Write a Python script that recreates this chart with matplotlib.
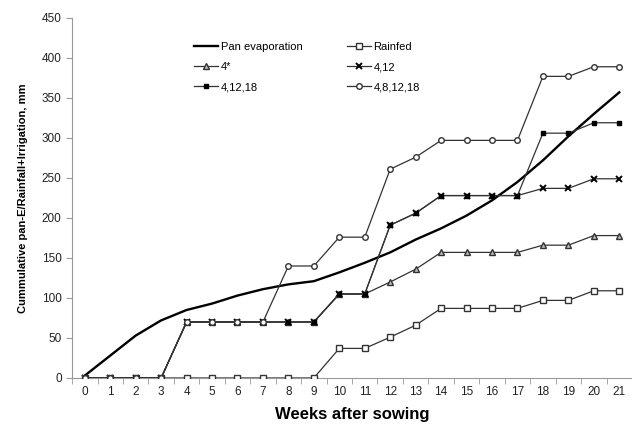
import matplotlib.pyplot as plt
import numpy as np

plt.rcParams['font.family'] = ['Liberation Sans', 'DejaVu Sans']

# datos
weeks = np.arange(0, 22)
pan_e = [3, 28, 53, 72, 85, 93, 103, 111, 117, 121, 132, 144, 157, 173, 187, 203, 222, 245, 272, 302, 330, 357]
rainfed = [0, 0, 0, 0, 0, 0, 0, 0, 0, 0, 37, 37, 51, 66, 87, 87, 87, 87, 97, 97, 109, 109]
irr_4 = [0, 0, 0, 0, 70, 70, 70, 70, 70, 70, 105, 105, 120, 136, 157, 157, 157, 157, 166, 166, 178, 178]
irr_4_12 = [0, 0, 0, 0, 70, 70, 70, 70, 70, 70, 105, 105, 191, 206, 228, 228, 228, 228, 237, 237, 249, 249]
irr_4_12_18 = [0, 0, 0, 0, 70, 70, 70, 70, 70, 70, 105, 105, 191, 206, 228, 228, 228, 228, 306, 306, 319, 319]
irr_4_8_12_18 = [0, 0, 0, 0, 70, 70, 70, 70, 140, 140, 176, 176, 261, 276, 297, 297, 297, 297, 377, 377, 389, 389]

fig = plt.figure(figsize=(6.32, 4.38), dpi=100)
ax = fig.add_axes([0.114, 0.137, 0.886, 0.822])

ms = 4
lc = '#333333'
ax.plot(weeks, pan_e, '-', color='black', lw=1.7, label='Pan evaporation', zorder=2)
ax.plot(weeks, irr_4, '-^', color=lc, lw=0.9, ms=ms, mfc='#bbbbbb', mec=lc, label='4*', zorder=3)
ax.plot(weeks, irr_4_12, '-x', color=lc, lw=0.9, ms=ms, mec='black', mew=1.4, label='4,12', zorder=4)
ax.plot(weeks, irr_4_12_18, '-s', color=lc, lw=0.9, ms=ms - 0.5, mfc='black', mec='black', label='4,12,18', zorder=5)
ax.plot(weeks, rainfed, '-s', color=lc, lw=0.9, ms=ms, mfc='white', mec=lc, label='Rainfed', zorder=6)
ax.plot(weeks, irr_4_8_12_18, '-o', color=lc, lw=0.9, ms=ms, mfc='white', mec=lc, label='4,8,12,18', zorder=7)

ax.set_xlim(-0.5, 21.5)
ax.set_ylim(0, 450)
ax.set_yticks(np.arange(0, 451, 50))
ax.set_xticks(weeks)
ax.set_xticks(np.arange(-0.5, 21.6, 1), minor=True)
ax.tick_params(axis='x', which='major', length=0, labelsize=8.5, colors='#222222', pad=6)
ax.tick_params(axis='x', which='minor', length=4, color='#999999')
ax.tick_params(axis='y', length=4, color='#999999', labelsize=8.5, labelcolor='#222222')

for s in ['top', 'right']:
    ax.spines[s].set_visible(False)
for s in ['left', 'bottom']:
    ax.spines[s].set_color('#999999')

ax.set_xlabel('Weeks after sowing', fontsize=12, fontweight='bold', labelpad=6)
ax.set_ylabel('Cummulative pan-E/Rainfall+Irrigation, mm', fontsize=8, fontweight='bold', labelpad=10)

h, l = ax.get_legend_handles_labels()
order = ['Pan evaporation', '4*', '4,12,18', 'Rainfed', '4,12', '4,8,12,18']
hh = [h[l.index(o)] for o in order]
ax.legend(hh, order, ncol=2, frameon=False, fontsize=8, loc='upper left',
          bbox_to_anchor=(0.2, 0.96), handlelength=2.2, columnspacing=4, labelspacing=0.9, handletextpad=0.2)

plt.savefig('out.png', dpi=100)
